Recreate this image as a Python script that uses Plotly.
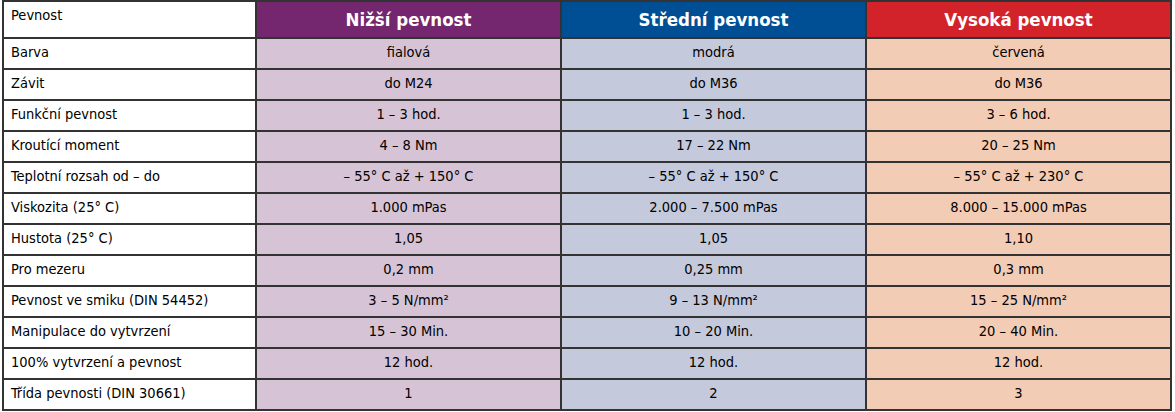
import plotly.graph_objects as go

# Table data
headers = ["Pevnost", "<b>Nižší pevnost</b>", "<b>Střední pevnost</b>", "<b>Vysoká pevnost</b>"]

properties = ["Barva", "Závit", "Funkční pevnost", "Kroutící moment", "Teplotní rozsah od – do",
              "Viskozita (25° C)", "Hustota (25° C)", "Pro mezeru", "Pevnost ve smiku (DIN 54452)",
              "Manipulace do vytvrzení", "100% vytvrzení a pevnost", "Třída pevnosti (DIN 30661)"]

low = ["fialová", "do M24", "1 – 3 hod.", "4 – 8 Nm", "– 55° C až + 150° C", "1.000 mPas",
       "1,05", "0,2 mm", "3 – 5 N/mm²", "15 – 30 Min.", "12 hod.", "1"]

medium = ["modrá", "do M36", "1 – 3 hod.", "17 – 22 Nm", "– 55° C až + 150° C", "2.000 – 7.500 mPas",
          "1,05", "0,25 mm", "9 – 13 N/mm²", "10 – 20 Min.", "12 hod.", "2"]

high = ["červená", "do M36", "3 – 6 hod.", "20 – 25 Nm", "– 55° C až + 230° C", "8.000 – 15.000 mPas",
        "1,10", "0,3 mm", "15 – 25 N/mm²", "20 – 40 Min.", "12 hod.", "3"]

header_colors = ["white", "#74266E", "#004F94", "#D2232A"]
cell_colors = ["white", "#D6C4D6", "#C5C9DC", "#F3CCB5"]

font = "DejaVu Sans Condensed, Liberation Sans Narrow, Arial Narrow, sans-serif"

fig = go.Figure(go.Table(
    columnwidth=[253, 305, 305, 305],
    header=dict(
        values=headers,
        fill_color=header_colors,
        line=dict(color="#333333", width=1.5),
        align=["left", "center", "center", "center"],
        font=dict(family=font, size=[14.5, 18.5, 18.5, 18.5], color=["black", "white", "white", "white"]),
        height=32,
    ),
    cells=dict(
        values=[properties, low, medium, high],
        fill_color=cell_colors,
        line=dict(color="#333333", width=1.5),
        align=["left", "center", "center", "center"],
        font=dict(family=font, size=14.5, color="black"),
        height=31,
    ),
    domain=dict(x=[3 / 1175, 1171 / 1175], y=[0, 1 - 1 / 412]),
))

fig.update_layout(
    width=1175, height=412,
    margin=dict(l=0, r=0, t=0, b=0),
    paper_bgcolor="white",
)

fig.write_html("out.html", config={"displayModeBar": False},
               post_script="document.body.style.margin='0px';")
